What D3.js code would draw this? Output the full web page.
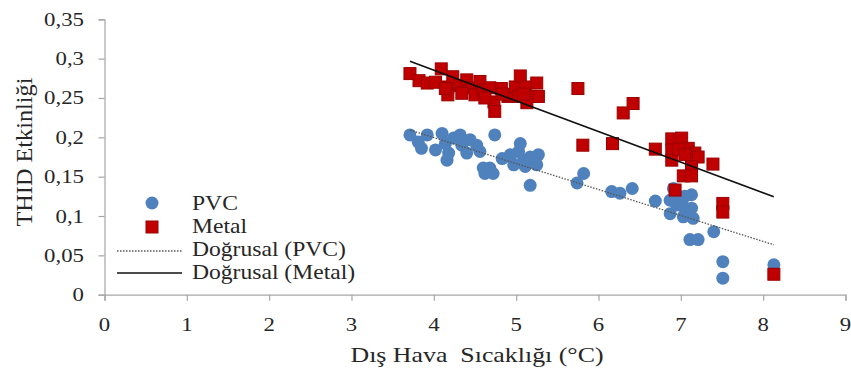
<!DOCTYPE html>
<html>
<head>
<meta charset="utf-8">
<script src="https://cdn.jsdelivr.net/npm/d3@7"></script>
<style>
  html, body { margin: 0; padding: 0; background: #fff; }
</style>
</head>
<body>
<svg id="chart" width="851" height="371"></svg>
<script>
// Outdoor temperature (°C) and THID efficiency, PVC frames
const pvcX = [3.71, 3.81, 3.92, 3.85, 4.02, 4.10, 4.14, 4.18, 4.16, 4.24, 4.32, 4.34, 4.40, 4.44, 4.52, 4.56,
  4.74, 4.60, 4.68, 4.62, 4.72, 4.83, 4.93, 5.05, 5.03, 4.93, 4.97, 5.09, 5.17, 5.27, 5.25, 5.11, 5.17,
  5.82, 5.74, 6.16, 6.26, 6.41, 6.69, 6.91, 6.87, 6.87, 6.95, 7.03, 7.03, 7.13, 7.13, 7.15, 7.05, 6.97,
  7.40, 7.11, 7.21, 7.51, 7.51, 8.13];
const pvcY = [0.203, 0.194, 0.203, 0.186, 0.184, 0.205, 0.192, 0.180, 0.171, 0.199, 0.203, 0.190, 0.180, 0.197, 0.190, 0.182,
  0.203, 0.161, 0.161, 0.154, 0.154, 0.173, 0.178, 0.192, 0.182, 0.175, 0.165, 0.171, 0.175, 0.178, 0.165, 0.163, 0.139,
  0.154, 0.142, 0.131, 0.129, 0.135, 0.119, 0.135, 0.120, 0.103, 0.114, 0.112, 0.099, 0.127, 0.110, 0.097, 0.125, 0.125,
  0.080, 0.070, 0.070, 0.042, 0.021, 0.038];

// Metal frames
const metalX = [3.71, 3.82, 3.92, 4.02, 4.09, 4.17, 4.17, 4.23, 4.32, 4.40, 4.46, 4.50, 4.56, 4.60, 4.68, 4.73, 4.74,
  4.82, 4.90, 4.93, 4.99, 5.05, 5.11, 5.03, 5.17, 5.25, 5.27, 5.13, 4.14, 4.34, 4.62, 4.83, 5.09,
  5.75, 5.81, 6.17, 6.30, 6.42, 6.69, 6.89,
  7.01, 6.89, 6.89, 7.09, 7.17, 7.21, 7.13, 7.03, 7.13, 7.39, 6.93, 6.97, 7.05, 7.51, 7.51, 8.13];
const metalY = [0.281, 0.272, 0.269, 0.270, 0.287, 0.264, 0.254, 0.277, 0.266, 0.273, 0.263, 0.254, 0.271, 0.260, 0.263, 0.245, 0.233,
  0.262, 0.252, 0.254, 0.264, 0.278, 0.264, 0.252, 0.252, 0.269, 0.252, 0.244, 0.262, 0.256, 0.250, 0.255, 0.255,
  0.262, 0.190, 0.192, 0.231, 0.243, 0.185, 0.198,
  0.199, 0.184, 0.171, 0.186, 0.180, 0.175, 0.163, 0.151, 0.151, 0.166, 0.133, 0.185, 0.178, 0.116, 0.105, 0.026];

const xTicks = [0, 1, 2, 3, 4, 5, 6, 7, 8, 9];
const yTicks = [0, 0.05, 0.1, 0.15, 0.2, 0.25, 0.3, 0.35];
const legendLabels = ["PVC", "Metal", "Doğrusal (PVC)", "Doğrusal (Metal)"];
const xTitle = "Dış Hava  Sıcaklığı (°C)";
const yTitle = "THID Etkinliği";

const PVC_COLOR = "#4F81BD";
const METAL_COLOR = "#C00000";
const FONT = '"Liberation Serif", serif';

const svg = d3.select("#chart");
const x = d3.scaleLinear().domain([0, 9]).range([104.5, 845.5]);
const y = d3.scaleLinear().domain([0, 0.35]).range([294.7, 19.3]);
const fmt = v => String(+v.toFixed(2)).replace(".", ",");

// Least-squares trend line over the data range
function trend(xs, ys) {
  const n = xs.length;
  const mx = d3.mean(xs), my = d3.mean(ys);
  let sxy = 0, sxx = 0;
  for (let i = 0; i < n; i++) { sxy += (xs[i] - mx) * (ys[i] - my); sxx += (xs[i] - mx) ** 2; }
  const b = sxy / sxx, a = my - b * mx;
  const [x0, x1] = d3.extent(xs);
  return [[x0, a + b * x0], [x1, a + b * x1]];
}

// Axes
const axisColor = "#a6a6a6";
const xAxis = svg.append("g").attr("transform", `translate(0,${y(0)})`)
  .call(d3.axisBottom(x).tickValues(xTicks).tickSize(6).tickFormat(""));
const yAxis = svg.append("g").attr("transform", `translate(${x(0)},0)`)
  .call(d3.axisLeft(y).tickValues(yTicks).tickSize(6).tickFormat(""));
[xAxis, yAxis].forEach(g => {
  g.select(".domain").attr("stroke", axisColor).attr("stroke-width", 1.2);
  g.selectAll(".tick line").attr("stroke", axisColor).attr("stroke-width", 1.2);
});

const label = sel => sel.style("font-family", FONT).style("white-space", "pre").attr("fill", "#262626");

// Tick labels (horizontally widened serif)
svg.append("g").selectAll("text").data(xTicks).join("text").call(label)
  .attr("transform", d => `translate(${x(d)},331) scale(1.2,1)`)
  .attr("text-anchor", "middle").attr("font-size", 19).text(d => d);
svg.append("g").selectAll("text").data(yTicks).join("text").call(label)
  .attr("transform", d => `translate(84,${y(d) + 6.5}) scale(1.2,1)`)
  .attr("text-anchor", "end").attr("font-size", 19).text(fmt);

// Axis titles
svg.append("text").call(label).attr("x", 477).attr("y", 362).attr("text-anchor", "middle")
  .attr("font-size", 21).attr("textLength", 253).attr("lengthAdjust", "spacingAndGlyphs").text(xTitle);
svg.append("text").call(label).attr("transform", "translate(32,152) rotate(-90)").attr("text-anchor", "middle")
  .attr("font-size", 23).attr("textLength", 149).attr("lengthAdjust", "spacingAndGlyphs").text(yTitle);

// Points
const pvc = pvcX.map((v, i) => [v, pvcY[i]]);
const metal = metalX.map((v, i) => [v, metalY[i]]);
svg.append("g").selectAll("circle").data(pvc).join("circle")
  .attr("cx", d => x(d[0])).attr("cy", d => y(d[1])).attr("r", 6.5)
  .attr("fill", PVC_COLOR);
const sq = 12;
svg.append("g").selectAll("rect").data(metal).join("rect")
  .attr("x", d => x(d[0]) - sq / 2).attr("y", d => y(d[1]) - sq / 2)
  .attr("width", sq).attr("height", sq)
  .attr("fill", METAL_COLOR).attr("stroke", "#9a0000").attr("stroke-width", 1);

// Trend lines
const line = d3.line().x(d => x(d[0])).y(d => y(d[1]));
svg.append("path").attr("d", line(trend(pvcX, pvcY))).attr("fill", "none")
  .attr("stroke", "#555").attr("stroke-width", 1.3).attr("stroke-dasharray", "1.5,1.5");
svg.append("path").attr("d", line(trend(metalX, metalY))).attr("fill", "none")
  .attr("stroke", "#111").attr("stroke-width", 1.6);

// Legend
const lg = svg.append("g");
lg.append("circle").attr("cx", 152).attr("cy", 203).attr("r", 6.5).attr("fill", PVC_COLOR);
lg.append("rect").attr("x", 146).attr("y", 221).attr("width", sq).attr("height", sq)
  .attr("fill", METAL_COLOR).attr("stroke", "#9a0000");
lg.append("line").attr("x1", 117).attr("x2", 182).attr("y1", 251).attr("y2", 251)
  .attr("stroke", "#555").attr("stroke-width", 1.3).attr("stroke-dasharray", "1.5,1.5");
lg.append("line").attr("x1", 117).attr("x2", 182).attr("y1", 273).attr("y2", 273)
  .attr("stroke", "#111").attr("stroke-width", 1.6);
const lgY = [210, 233, 256, 279];
lg.selectAll("text").data(legendLabels).join("text").call(label)
  .attr("transform", (d, i) => `translate(192,${lgY[i]}) scale(1.18,1)`)
  .attr("font-size", 20).text(d => d);
</script>
</body>
</html>
